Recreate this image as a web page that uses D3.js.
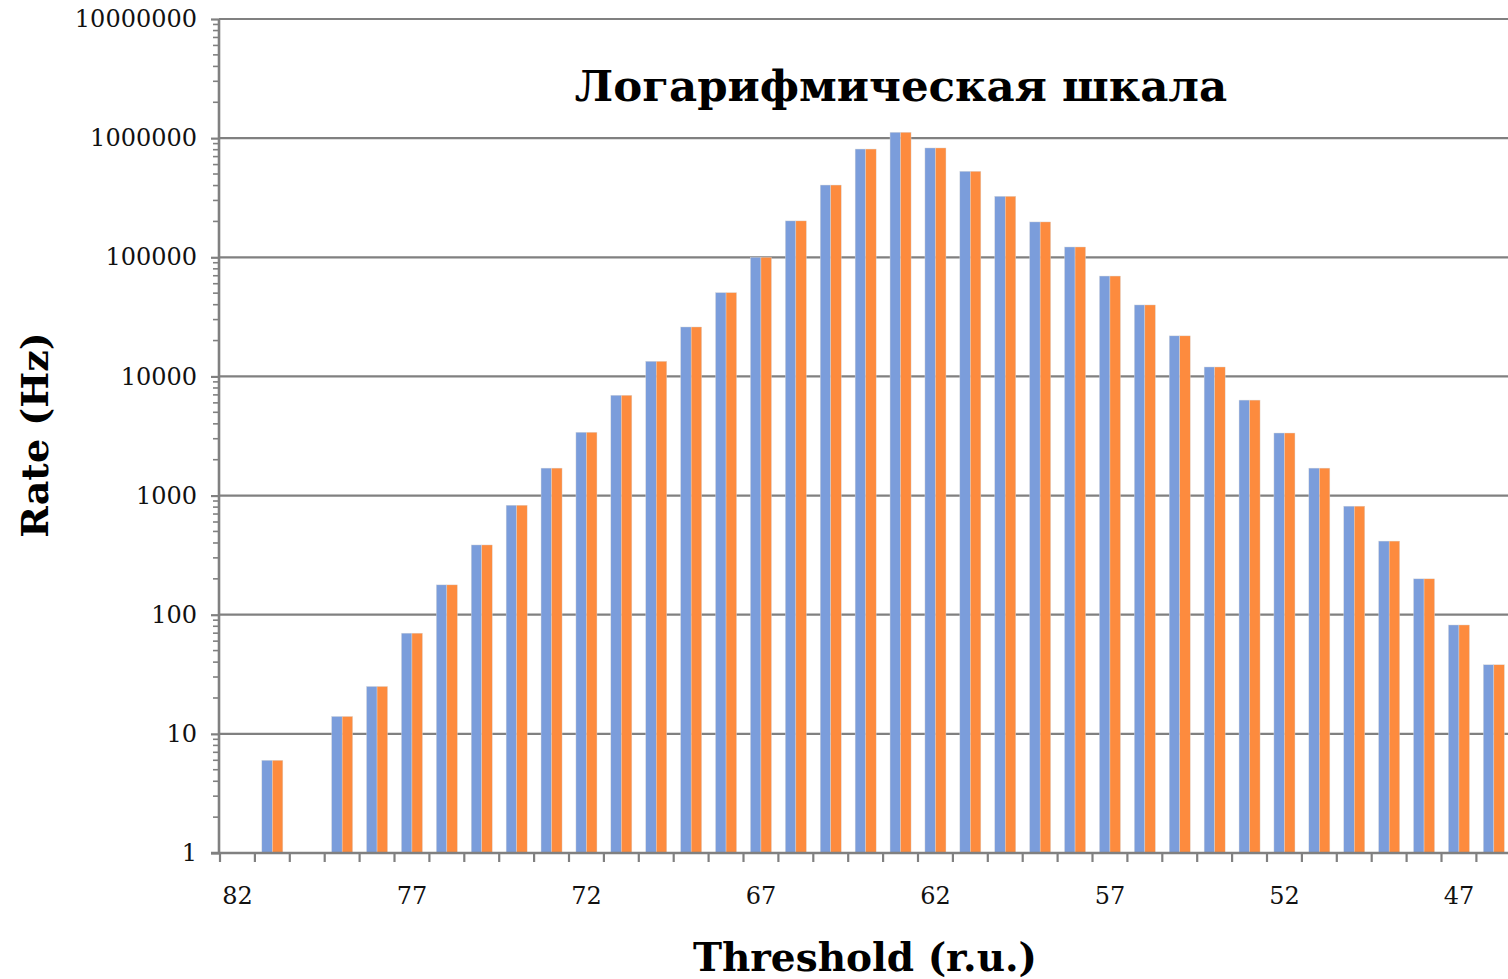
<!DOCTYPE html>
<html>
<head>
<meta charset="utf-8">
<script src="https://cdn.jsdelivr.net/npm/d3@7"></script>
<style>
  body { margin: 0; background: #fff; overflow: hidden; }
  text { font-family: "DejaVu Serif", serif; }
</style>
</head>
<body>
<svg id="chart"></svg>
<script>
// thresholds, from high to low (r.u.)
const thresholds = d3.range(82, 45, -1);
// rate values, null where no bar is drawn
const seriesA = [null, 6, null, 14, 25, 70, 178, 385, 830, 1700, 3400, 6950, 13400, 26000, 50500,
  100000, 202000, 404000, 810000, 1120000, 827000, 527000, 325000, 198000, 122000, 69600,
  39800, 21900, 12000, 6330, 3350, 1700, 815, 415, 200, 82, 38];
const seriesB = [null, 6, null, 14, 25, 70, 178, 385, 830, 1700, 3400, 6950, 13400, 26000, 50500,
  100000, 202000, 404000, 810000, 1120000, 827000, 527000, 325000, 198000, 122000, 69600,
  39800, 21900, 12000, 6330, 3350, 1700, 815, 415, 200, 82, 38];
const labelTicks = [82, 77, 72, 67, 62, 57, 52, 47];
const yTicks = [1, 10, 100, 1000, 10000, 100000, 1000000, 10000000];

const width = 1508, height = 979;
const margin = { top: 19, left: 219, bottom: 126 };
const step = 34.9;

const svg = d3.select("#chart").attr("width", width).attr("height", height);

const x = d3.scaleBand()
  .domain(thresholds)
  .range([margin.left + 1, margin.left + 1 + thresholds.length * step])
  .paddingInner(0).paddingOuter(0);

const sub = d3.scaleBand()
  .domain(["a", "b"])
  .range([0, x.bandwidth()])
  .paddingInner(0)
  .paddingOuter(0.66);

const y = d3.scaleLog()
  .domain([1, 1e7])
  .range([height - margin.bottom, margin.top]);

const gray = "#808080";

// gridlines
svg.append("g")
  .selectAll("line")
  .data(yTicks.slice(1))
  .join("line")
  .attr("x1", margin.left)
  .attr("x2", width)
  .attr("y1", (d) => y(d))
  .attr("y2", (d) => y(d))
  .attr("stroke", gray)
  .attr("stroke-width", 2.2);

// bars
const rows = thresholds.map((t, i) => ({ t, a: seriesA[i], b: seriesB[i] }));
const bars = svg.append("g");
[["a", "#7b9ddb"], ["b", "#fd8b3e"]].forEach(([key, color]) => {
  bars.append("g")
    .attr("fill", color)
    .selectAll("rect")
    .data(rows.filter((d) => d[key] != null))
    .join("rect")
    .attr("x", (d) => x(d.t) + sub(key))
    .attr("width", sub.bandwidth())
    .attr("y", (d) => y(d[key]))
    .attr("height", (d) => y(1) - y(d[key]))
    .attr("stroke", "#dadada")
    .attr("stroke-width", 0.4);
});

// y axis: majors with labels, minors without
const minors = [];
for (let p = 0; p < 7; p++) for (let m = 2; m <= 9; m++) minors.push(m * Math.pow(10, p));

const yAxis = svg.append("g").attr("transform", `translate(${margin.left},0)`);
yAxis.call(d3.axisLeft(y).tickValues(yTicks).tickFormat(d3.format("d")).tickSize(8).tickPadding(14))
  .call((g) => g.select(".domain").remove());
yAxis.selectAll(".tick line").attr("stroke", gray).attr("stroke-width", 2.2);
yAxis.selectAll(".tick text").attr("font-size", 24).attr("fill", "#111")
  .style("font-family", "DejaVu Serif");
yAxis.append("g")
  .selectAll("line")
  .data(minors)
  .join("line")
  .attr("x1", -6).attr("x2", 0)
  .attr("y1", (d) => y(d)).attr("y2", (d) => y(d))
  .attr("stroke", gray)
  .attr("stroke-width", 1.6);
yAxis.append("line")
  .attr("y1", y(1e7)).attr("y2", y(1))
  .attr("stroke", gray).attr("stroke-width", 2.6);

// x axis
const xAxis = svg.append("g").attr("transform", `translate(0,${y(1)})`);
xAxis.append("line")
  .attr("x1", margin.left - 8).attr("x2", width)
  .attr("stroke", gray).attr("stroke-width", 2.6);
xAxis.append("g")
  .selectAll("line")
  .data(thresholds)
  .join("line")
  .attr("x1", (d) => x(d)).attr("x2", (d) => x(d))
  .attr("y1", 0).attr("y2", 9)
  .attr("stroke", gray).attr("stroke-width", 2.2);
xAxis.append("g")
  .selectAll("text")
  .data(labelTicks)
  .join("text")
  .attr("x", (d) => x(d) + x.bandwidth() / 2)
  .attr("y", 51)
  .attr("text-anchor", "middle")
  .attr("font-size", 24)
  .attr("fill", "#111")
  .text((d) => d);

// title and axis titles
svg.append("text")
  .attr("x", 901).attr("y", 101)
  .attr("text-anchor", "middle")
  .attr("font-size", 43.5).attr("font-weight", "bold")
  .text("Логарифмическая шкала");

svg.append("text")
  .attr("transform", "translate(48,435) rotate(-90)")
  .attr("text-anchor", "middle")
  .attr("font-size", 38).attr("font-weight", "bold")
  .text("Rate (Hz)");

svg.append("text")
  .attr("x", 865).attr("y", 971)
  .attr("text-anchor", "middle")
  .attr("font-size", 39).attr("font-weight", "bold")
  .text("Threshold (r.u.)");
</script>
</body>
</html>
